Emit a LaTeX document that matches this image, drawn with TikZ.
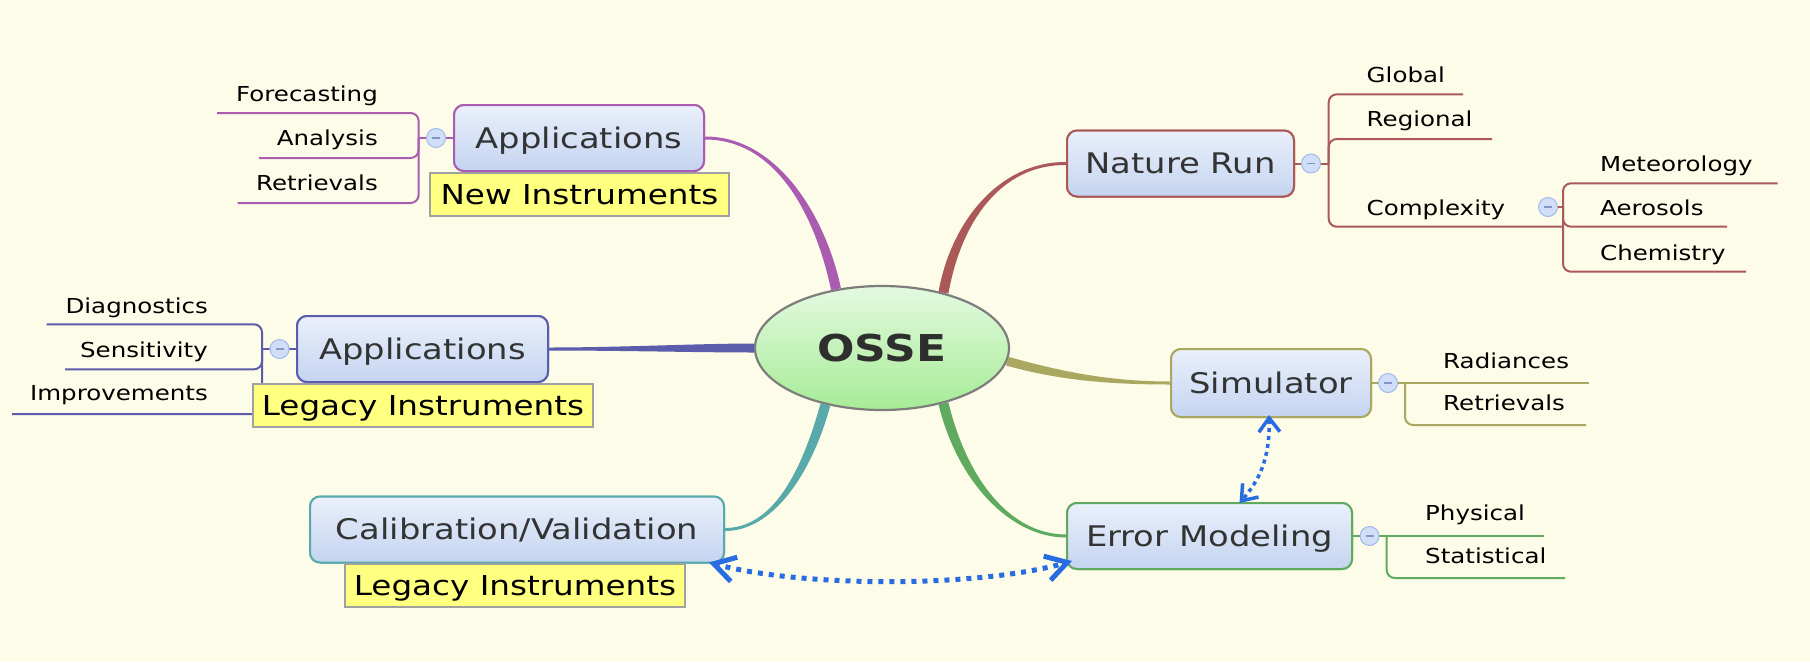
\documentclass[tikz,border=0pt]{standalone}
\usepackage{fontspec}
\setmainfont{DejaVu Sans}[FakeStretch=1.19]
\usetikzlibrary{calc,arrows.meta,shapes.geometric}
\definecolor{bg}{RGB}{253,252,232}
\definecolor{cpurple}{RGB}{170,92,176}
\definecolor{cviolet}{RGB}{92,92,172}
\definecolor{cred}{RGB}{170,88,88}
\definecolor{colive}{RGB}{170,168,96}
\definecolor{cgreen}{RGB}{96,170,96}
\definecolor{cteal}{RGB}{88,170,170}
\definecolor{cblue}{RGB}{40,108,226}
\definecolor{boxtop}{RGB}{234,240,251}
\definecolor{boxbot}{RGB}{196,212,240}
\definecolor{notefill}{RGB}{255,255,128}
\definecolor{noteline}{RGB}{160,160,160}
\definecolor{txt}{RGB}{51,51,51}
\definecolor{ostop}{RGB}{228,249,224}
\definecolor{osbot}{RGB}{166,236,150}
\definecolor{osline}{RGB}{125,125,125}
\definecolor{mfill}{RGB}{208,222,248}
\definecolor{mline}{RGB}{160,185,235}
\definecolor{mbar}{RGB}{130,150,200}
\newcommand\myfs[1]{\fontsize{#1}{#1}\selectfont}
% color, P0, C1, C2, P3, half width at P0, half width at P3
\newcommand\tapercurve[7]{%
  \fill[#1] ($(#2)!#6!90:(#3)$) .. controls ($(#3)!#6!-90:(#2)$) and ($(#4)!#7!90:(#5)$) .. ($(#5)!#7!-90:(#4)$)
   -- ($(#5)!#7!90:(#4)$) .. controls ($(#4)!#7!-90:(#5)$) and ($(#3)!#6!90:(#2)$) .. ($(#2)!#6!-90:(#3)$) -- cycle;}
\begin{document}
\begin{tikzpicture}[x=1pt,y=-1pt,
  mainbox/.style={draw=#1, line width=2pt, rounded corners=10pt, top color=boxtop, bottom color=boxbot,
    text=txt, font=\myfs{28.4}, minimum height=66pt, inner sep=0pt, text height=20.7pt, text depth=0pt},
  note/.style={draw=noteline, line width=1.2pt, fill=notefill, font=\myfs{27.4}, minimum height=43pt,
    inner sep=0pt, text height=20pt, text depth=0pt, text=black},
  leaf/.style={font=\myfs{20.6}, inner sep=0pt, text=black},
  minus/.style={circle, draw=mline, fill=mfill, line width=1pt, minimum size=19pt, inner sep=0pt,
    path picture={\draw[line width=1.3pt, mbar] ([xshift=-4pt]path picture bounding box.center) -- ([xshift=4pt]path picture bounding box.center);}},
  branch/.style={draw=#1, line width=2pt, rounded corners=8pt},
  bigbarb/.tip={Straight Barb[length=21pt,width=25pt,line width=5pt,line cap=butt,line join=miter]},
  smallbarb/.tip={Straight Barb[length=14pt,width=21pt,line width=3.5pt,line cap=butt,line join=miter]},
  dotline/.style={draw=cblue, line width=5pt, dash pattern=on 5pt off 6pt, shorten <=6pt, shorten >=6pt},
  dotlinethin/.style={draw=cblue, line width=3.5pt, dash pattern=on 4pt off 4pt, shorten <=5pt, shorten >=5pt},
  bigtips/.style={tips=true, color=cblue, line width=5pt, solid, bigbarb-bigbarb},
  smalltips/.style={tips=true, color=cblue, line width=3.5pt, solid, smallbarb-smallbarb},
]
\useasboundingbox (0,0) rectangle (1810,662);
\fill[bg] (0,0) rectangle (1810,662);

% ---------- nodes (positions) ----------
\node[ellipse, draw=osline, line width=2.2pt, top color=ostop, bottom color=osbot, minimum width=254pt,
  minimum height=124pt, inner sep=0pt, text=txt!90!black, font=\bfseries\myfs{37}, text height=27pt, text depth=0pt]
  (osse) at (882,348) {OSSE};

\node[mainbox=cpurple, minimum width=250pt] (appnew) at (579,138) {Applications};
\node[mainbox=cviolet, minimum width=251pt] (appleg) at (422.5,349) {Applications};
\node[mainbox=cteal, minimum width=414pt] (calib) at (517,529.5) {Calibration/Validation};
\node[mainbox=cred, minimum width=227pt] (nature) at (1180.5,163.5) {Nature Run};
\node[mainbox=colive, minimum width=200pt, minimum height=68pt] (sim) at (1271,383) {Simulator};
\node[mainbox=cgreen, minimum width=285pt] (err) at (1209.5,536) {Error Modeling};

% ---------- tapered connectors from the centre ----------
\coordinate (c1a) at (780,138);  \coordinate (c1b) at (822,222);
\tapercurve{cpurple}{appnew.east}{c1a}{c1b}{osse.128}{1.5pt}{5pt}
\coordinate (c2a) at (1000,163); \coordinate (c2b) at (956,222);
\tapercurve{cred}{nature.west}{c2a}{c2b}{osse.42}{1.5pt}{5pt}
\coordinate (c3a) at (620,349);  \coordinate (c3b) at (700,348);
\tapercurve{cviolet}{appleg.east}{c3a}{c3b}{osse.west}{1.5pt}{4.5pt}
\coordinate (c4a) at (1060,376); \coordinate (c4b) at (1110,383);
\tapercurve{colive}{osse.-6}{c4a}{c4b}{sim.west}{4.5pt}{1.5pt}
\coordinate (c5a) at (962,480);  \coordinate (c5b) at (1010,536);
\tapercurve{cgreen}{osse.318}{c5a}{c5b}{err.west}{5pt}{1.5pt}
\coordinate (c6a) at (806,475);  \coordinate (c6b) at (772,529.5);
\tapercurve{cteal}{osse.225}{c6a}{c6b}{calib.east}{5pt}{1.5pt}

% ---------- branch brackets ----------
% top Applications
\coordinate (pb) at (418.6,138);
\coordinate (pF) at (217,113); \coordinate (pA) at (259,158); \coordinate (pR) at (237.5,203);
\draw[branch=cpurple] (appnew.west) -- (pb);
\draw[branch=cpurple] (pb) |- (pF);
\draw[branch=cpurple] (pb) |- (pA);
\draw[branch=cpurple] (pb) |- (pR);
% legacy Applications
\coordinate (vb) at (262,349);
\coordinate (vD) at (46.7,324.3); \coordinate (vS) at (65.2,369.3); \coordinate (vI) at (12,414);
\draw[branch=cviolet] (appleg.west) -- (vb);
\draw[branch=cviolet] (vb) |- (vD);
\draw[branch=cviolet] (vb) |- (vS);
\draw[branch=cviolet] (vb) |- (vI);
% Nature Run
\coordinate (rb) at (1328.7,163.5);
\coordinate (rG) at (1463,94.3); \coordinate (rR) at (1492,139); \coordinate (sb) at (1563,207);
\coordinate (rC) at (1563,226.7);
\draw[branch=cred] (nature.east) -- (rb);
\draw[branch=cred] (rb) |- (rG);
\draw[branch=cred] (rb) |- (rR);
\draw[branch=cred] (rb) |- (rC);
\coordinate (sM) at (1777.5,183.3); \coordinate (sA) at (1727,226.7); \coordinate (sC) at (1746,271.7);
\coordinate (cm) at (1548,207);
\draw[branch=cred] (cm) -- (sb);
\draw[branch=cred] (sb) |- (sM);
\draw[branch=cred] (sb) |- (sA);
\draw[branch=cred] (sb) |- (sC);
% Simulator
\coordinate (ob) at (1405,383);
\coordinate (oR) at (1589,383); \coordinate (oT) at (1586,425);
\draw[branch=colive] (sim.east) -- (ob) -- (oR);
\draw[branch=colive] (ob) |- (oT);
% Error Modeling
\coordinate (gb) at (1386.7,536);
\coordinate (gP) at (1544,536); \coordinate (gS) at (1565,578);
\draw[branch=cgreen] (err.east) -- (gb) -- (gP);
\draw[branch=cgreen] (gb) |- (gS);

% ---------- redraw boxes on top ----------
\node[mainbox=cpurple, minimum width=250pt] at (appnew) {Applications};
\node[mainbox=cviolet, minimum width=251pt] at (appleg) {Applications};
\node[mainbox=cteal, minimum width=414pt] at (calib) {Calibration/Validation};
\node[mainbox=cred, minimum width=227pt] at (nature) {Nature Run};
\node[mainbox=colive, minimum width=200pt, minimum height=68pt] at (sim) {Simulator};
\node[mainbox=cgreen, minimum width=285pt] at (err) {Error Modeling};

% ---------- notes ----------
\node[note, minimum width=299pt] (note1) at (579.5,194.5) {New Instruments};
\node[note, minimum width=340pt] (note2) at (423,405.5) {Legacy Instruments};
\node[note, minimum width=340pt] (note3) at (515,585.5) {Legacy Instruments};

% ---------- collapse buttons ----------
\node[minus] (m1) at (436,138) {};
\node[minus] (m2) at (279.5,349) {};
\node[minus] (m3) at (1311,163.5) {};
\node[minus] (m4) at (cm) {};
\node[minus] (m5) at (1388,383) {};
\node[minus] (m6) at (1369.5,536) {};

% ---------- leaves ----------
\node[leaf, anchor=base east] (l1) at (378,101.5) {Forecasting};
\node[leaf, anchor=base east] (l2) at (378,145.5) {Analysis};
\node[leaf, anchor=base east] (l3) at (378,190.5) {Retrievals};
\node[leaf, anchor=base east] (l4) at (208,313) {Diagnostics};
\node[leaf, anchor=base east] (l5) at (208,357) {Sensitivity};
\node[leaf, anchor=base east] (l6) at (208,400) {Improvements};
\node[leaf, anchor=base west] (l7) at (1366.5,82) {Global};
\node[leaf, anchor=base west] (l8) at (1366.5,126.7) {Regional};
\node[leaf, anchor=base west] (l9) at (1366.5,215.5) {Complexity};
\node[leaf, anchor=base west] (l10) at (1600,171.5) {Meteorology};
\node[leaf, anchor=base west] (l11) at (1600,215.5) {Aerosols};
\node[leaf, anchor=base west] (l12) at (1600,260) {Chemistry};
\node[leaf, anchor=base west] (l13) at (1443,368) {Radiances};
\node[leaf, anchor=base west] (l14) at (1443,410.5) {Retrievals};
\node[leaf, anchor=base west] (l15) at (1425,520) {Physical};
\node[leaf, anchor=base west] (l16) at (1425,563) {Statistical};

% ---------- dotted double arrows ----------
\coordinate (aL) at ($(calib.south east)+(-16,-1)$);
\coordinate (aR) at ($(err.south west)+(6,-9)$);
\draw[dotline] (aL) .. controls ($(aL)+(92,25)$) and ($(aR)+(-93,27)$) .. (aR);
\path[bigtips] (aL) .. controls ($(aL)+(92,25)$) and ($(aR)+(-93,27)$) .. (aR);
\coordinate (bT) at ($(sim.south)+(-2,-3)$);
\coordinate (bB) at ($(err.north)+(30,1)$);
\draw[dotlinethin] (bT) .. controls ($(bT)+(1,45)$) and ($(bB)+(19,-22)$) .. (bB);
\path[smalltips] (bT) .. controls ($(bT)+(1,45)$) and ($(bB)+(19,-22)$) .. (bB);
\end{tikzpicture}
\end{document}
